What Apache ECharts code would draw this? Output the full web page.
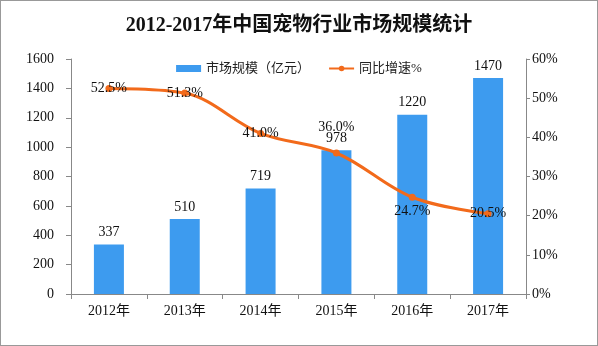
<!DOCTYPE html>
<html><head><meta charset="utf-8">
<script src="https://cdn.jsdelivr.net/npm/echarts@6/dist/echarts.min.js"></script>
<style>html,body{margin:0;padding:0;background:#fff}#c{width:598px;height:346px;box-sizing:border-box;border:1px solid #999}</style>
</head><body><div id="c"></div>
<script>
const categories = ['2012年','2013年','2014年','2015年','2016年','2017年'];
const marketSize = [337, 510, 719, 978, 1220, 1470];
const growthRate = [52.5, 51.3, 41.0, 36.0, 24.7, 20.5];
const leftTicks = [0, 1600, 200];
const rightTicks = [0, 60, 10];
const FONT = '"Liberation Serif", "Noto Sans CJK SC", serif';
const chart = echarts.init(document.getElementById('c'), null, {renderer:'canvas'});
const lineLabelPos = ['inside','inside','inside','top','bottom','inside'];
chart.setOption({
  animation:false,
  title:{text:'2012-2017年中国宠物行业市场规模统计',left:'center',top:10,
    textStyle:{fontFamily:FONT,fontSize:20,fontWeight:'bold',color:'#111'}},
  legend:{top:56,left:'center',itemGap:18,itemWidth:25,itemHeight:7,
    textStyle:{fontFamily:FONT,fontSize:13,color:'#222'},
    data:[{name:'市场规模（亿元）',icon:'rect'},{name:'同比增速%'}]},
  grid:{left:70,right:71,top:58,bottom:51},
  xAxis:{type:'category',data:categories,
    axisLine:{lineStyle:{color:'#888'}},
    axisTick:{show:true,alignWithLabel:false,length:5,lineStyle:{color:'#888'}},
    axisLabel:{fontFamily:FONT,fontSize:14,color:'#111',margin:10}},
  yAxis:[{type:'value',min:leftTicks[0],max:leftTicks[1],interval:leftTicks[2],
    splitLine:{show:false},axisLine:{show:true,lineStyle:{color:'#888'}},
    axisTick:{show:true,length:5,lineStyle:{color:'#888'}},
    axisLabel:{fontFamily:FONT,fontSize:14,color:'#111',margin:17,formatter:v=>String(v)}},
   {type:'value',min:rightTicks[0],max:rightTicks[1],interval:rightTicks[2],
    splitLine:{show:false},axisLine:{show:true,lineStyle:{color:'#888'}},
    axisTick:{show:true,length:4,lineStyle:{color:'#888'}},
    axisLabel:{fontFamily:FONT,fontSize:14,color:'#111',margin:6,formatter:'{value}%'}}],
  series:[{name:'市场规模（亿元）',type:'bar',data:marketSize,barWidth:30,
    itemStyle:{color:'#3d9bef'},
    label:{show:true,position:'top',distance:5,fontFamily:FONT,fontSize:14,color:'#111'}},
   {name:'同比增速%',type:'line',yAxisIndex:1,smooth:0.35,
    data:growthRate.map((v,i)=>({value:v,label:{position:lineLabelPos[i],distance:i===3?15:4}})),
    symbol:'circle',symbolSize:7,
    lineStyle:{color:'#f26a1b',width:3},itemStyle:{color:'#f26a1b'},
    label:{show:true,fontFamily:FONT,fontSize:14,color:'#111',
      formatter:p=>p.value.toFixed(1)+'%'}}]
});
</script></body></html>
